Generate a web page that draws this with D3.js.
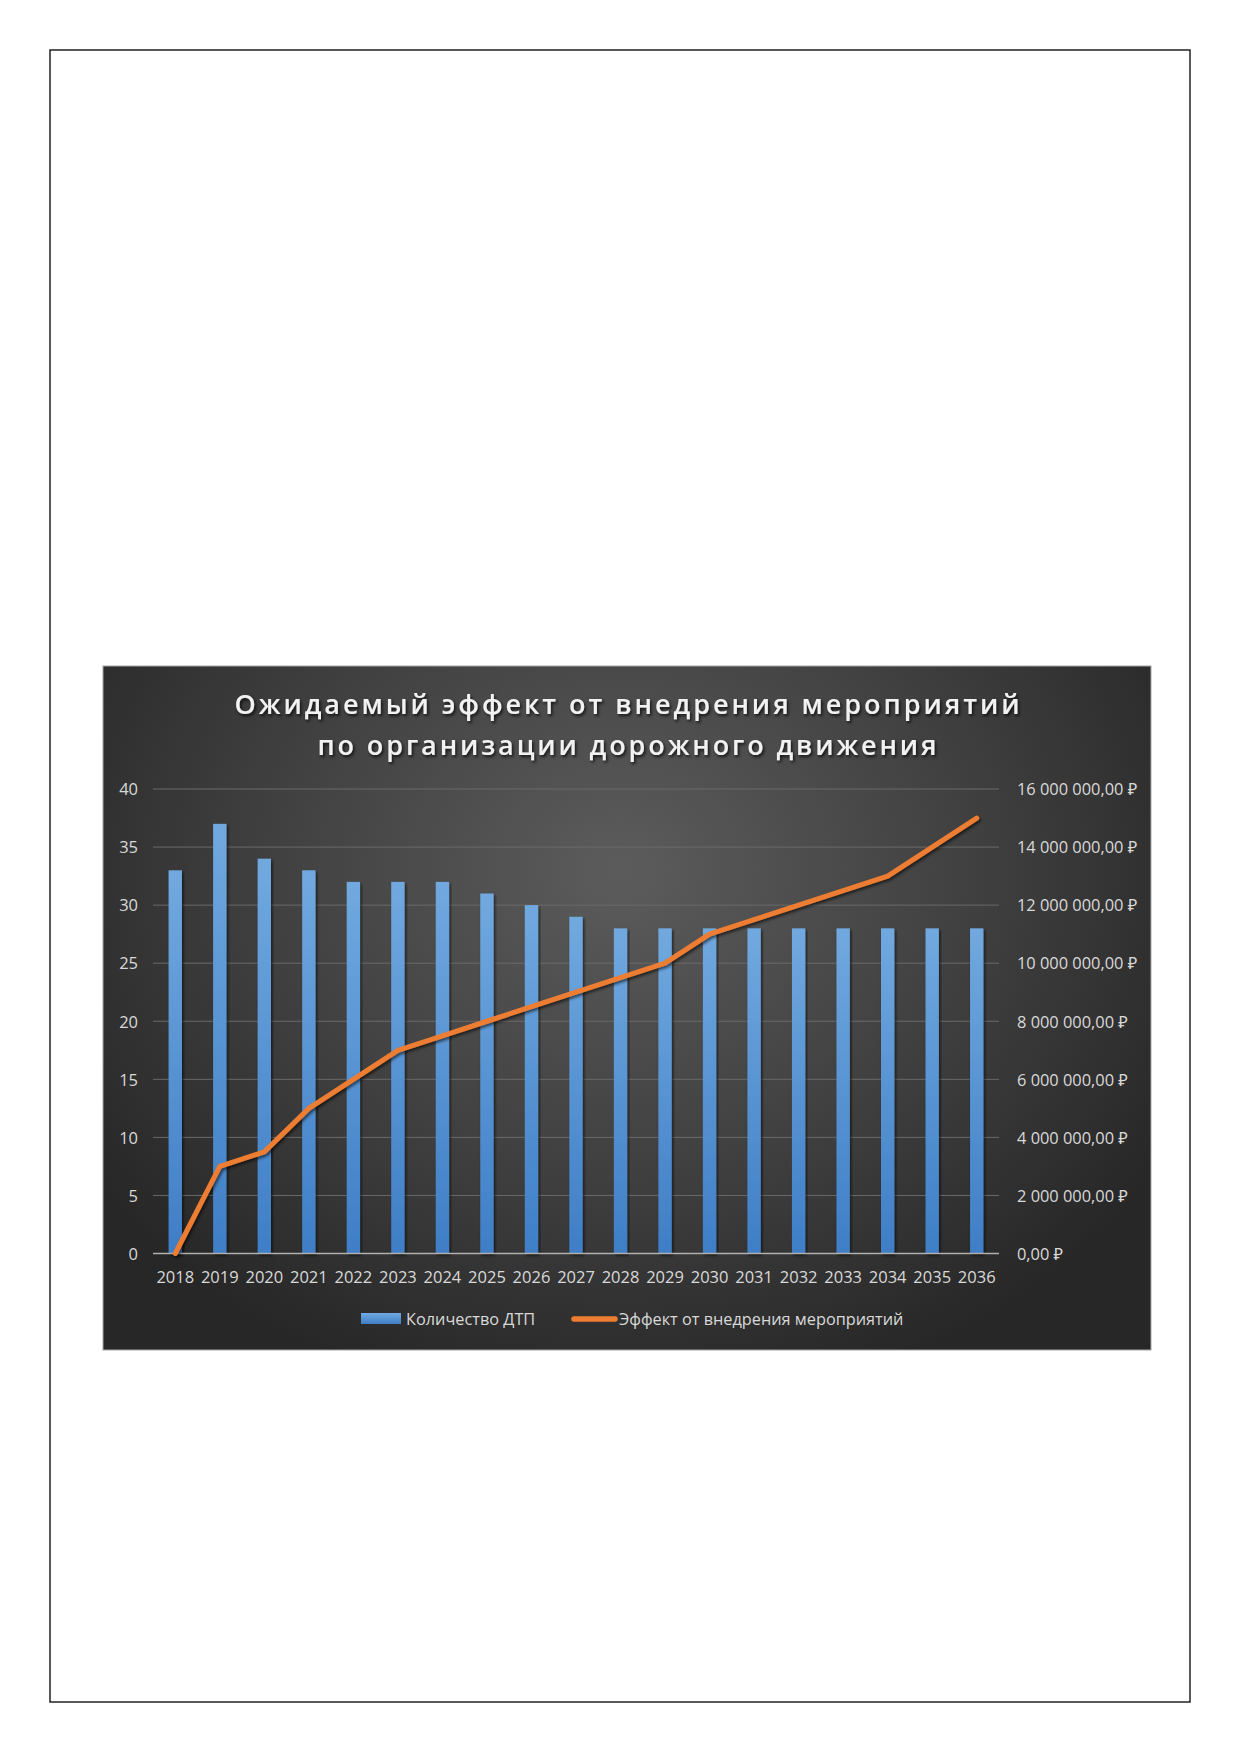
<!DOCTYPE html>
<html>
<head>
<meta charset="utf-8">
<script src="https://cdn.jsdelivr.net/npm/d3@7/dist/d3.min.js"></script>
<style>
  html, body { margin: 0; padding: 0; background: #ffffff; }
  svg { display: block; }
</style>
</head>
<body>
<script>
// ---- data ----
const years = ["2018","2019","2020","2021","2022","2023","2024","2025","2026","2027","2028","2029","2030","2031","2032","2033","2034","2035","2036"];
const accidents = [33, 37, 34, 33, 32, 32, 32, 31, 30, 29, 28, 28, 28, 28, 28, 28, 28, 28, 28];
const effect = [0, 3000000, 3500000, 5000000, 6000000, 7000000, 7500000, 8000000, 8500000, 9000000, 9500000, 10000000, 11000000, 11500000, 12000000, 12500000, 13000000, 14000000, 15000000];
const leftTicks = [0, 5, 10, 15, 20, 25, 30, 35, 40];
const rightTicks = [0, 2000000, 4000000, 6000000, 8000000, 10000000, 12000000, 14000000, 16000000];
const titleLines = ["Ожидаемый эффект от внедрения мероприятий", "по организации дорожного движения"];
const seriesNames = ["Количество ДТП", "Эффект от внедрения мероприятий"];

// ---- layout ----
const W = 1239, H = 1752;
const chart = {x: 103, y: 666, w: 1048, h: 684};
const plot = {left: 153, right: 999, top: 789, bottom: 1253.5};
const textColor = "#d9d9d9";
const font = "'Open Sans', 'Noto Sans', 'DejaVu Sans', sans-serif";

const svg = d3.select("body").append("svg").attr("width", W).attr("height", H);
const defs = svg.append("defs");

const bg = defs.append("radialGradient").attr("id", "bg")
  .attr("gradientUnits", "userSpaceOnUse")
  .attr("cx", 620).attr("cy", 870).attr("r", 640)
  .attr("gradientTransform", "translate(620,870) scale(1,0.85) translate(-620,-870)");
bg.append("stop").attr("offset", "0").attr("stop-color", "#5c5c5c");
bg.append("stop").attr("offset", "0.55").attr("stop-color", "#404040");
bg.append("stop").attr("offset", "1").attr("stop-color", "#272727");

const barG = defs.append("linearGradient").attr("id", "barg").attr("x1", 0).attr("y1", 0).attr("x2", 0).attr("y2", 1);
barG.append("stop").attr("offset", "0").attr("stop-color", "#71a9df");
barG.append("stop").attr("offset", "1").attr("stop-color", "#3f7ec6");

const sh = defs.append("filter").attr("id", "shadow").attr("x", "-20%").attr("y", "-20%").attr("width", "140%").attr("height", "140%");
sh.append("feDropShadow").attr("dx", 1.5).attr("dy", 2).attr("stdDeviation", 1.5).attr("flood-color", "#000").attr("flood-opacity", 0.6);
const tsh = defs.append("filter").attr("id", "tshadow").attr("x", "-5%").attr("y", "-30%").attr("width", "110%").attr("height", "160%");
tsh.append("feDropShadow").attr("dx", 1.5).attr("dy", 2).attr("stdDeviation", 1.5).attr("flood-color", "#000").attr("flood-opacity", 0.75);

// page border
svg.append("rect").attr("x", 50).attr("y", 50).attr("width", 1140).attr("height", 1652)
  .attr("fill", "#fff").attr("stroke", "#222").attr("stroke-width", 1.5);

// chart background
svg.append("rect").attr("x", chart.x).attr("y", chart.y).attr("width", chart.w).attr("height", chart.h)
  .attr("fill", "url(#bg)").attr("stroke", "#a6a6a6").attr("stroke-width", 1);

// ---- scales ----
const x = d3.scaleBand().domain(years).range([plot.left, plot.right]).paddingInner(0.7).paddingOuter(0.35);
const yL = d3.scaleLinear().domain([0, 40]).range([plot.bottom, plot.top]);
const yR = d3.scaleLinear().domain([0, 16000000]).range([plot.bottom, plot.top]);

const ru = d3.formatLocale({decimal: ",", thousands: "\u00a0", grouping: [3], currency: ["", "\u00a0₽"]});
const fmtR = ru.format("$,.2f");

// gridlines
svg.append("g").selectAll("line").data(leftTicks.filter(d => d > 0)).join("line")
  .attr("x1", plot.left).attr("x2", plot.right)
  .attr("y1", d => yL(d)).attr("y2", d => yL(d))
  .attr("stroke", "#6a6a6a").attr("stroke-width", 1);

// bars
svg.append("g").selectAll("rect").data(accidents).join("rect")
  .attr("x", (d, i) => x(years[i]))
  .attr("y", d => yL(d))
  .attr("width", x.bandwidth())
  .attr("height", d => yL(0) - yL(d))
  .attr("fill", "url(#barg)")
  .attr("filter", "url(#shadow)");

// baseline
svg.append("line").attr("x1", plot.left).attr("x2", plot.right)
  .attr("y1", yL(0)).attr("y2", yL(0)).attr("stroke", "#b0b0b0").attr("stroke-width", 1.5);

// left axis
const axL = d3.axisLeft(yL).tickValues(leftTicks).tickSize(0).tickPadding(0);
const gL = svg.append("g").attr("transform", "translate(138,0)").call(axL);
gL.select(".domain").remove();
gL.selectAll("text").attr("fill", textColor).attr("font-family", font).attr("font-size", 16.5).attr("dy", "0.35em");

// right axis
const axR = d3.axisRight(yR).tickValues(rightTicks).tickFormat(fmtR).tickSize(0).tickPadding(0);
const gR = svg.append("g").attr("transform", "translate(1017,0)").call(axR);
gR.select(".domain").remove();
gR.selectAll("text").attr("fill", textColor).attr("font-family", font).attr("font-size", 16.4).attr("dy", "0.35em");

// bottom axis
const axB = d3.axisBottom(x).tickSize(0).tickPadding(0);
const gB = svg.append("g").attr("transform", "translate(0,1283)").call(axB);
gB.select(".domain").remove();
gB.selectAll("text").attr("fill", textColor).attr("font-family", font).attr("font-size", 16.5).attr("dy", 0);

// line
const line = d3.line().x((d, i) => x(years[i]) + x.bandwidth() / 2).y(d => yR(d));
svg.append("path").datum(effect).attr("d", line)
  .attr("fill", "none").attr("stroke", "#ed7d31").attr("stroke-width", 5)
  .attr("stroke-linejoin", "round").attr("stroke-linecap", "round")
  .attr("filter", "url(#shadow)");

// title
const tW = [785, 619];
const tY = [714, 755];
svg.append("g").selectAll("text").data(titleLines).join("text")
  .attr("x", 627).attr("y", (d, i) => tY[i])
  .attr("text-anchor", "middle")
  .attr("font-family", font).attr("font-weight", 600).attr("font-size", 27)
  .attr("fill", "#f2f2f2")
  .attr("textLength", (d, i) => tW[i]).attr("lengthAdjust", "spacing")
  .attr("filter", "url(#tshadow)")
  .text(d => d);

// legend
const lg = svg.append("g");
lg.append("rect").attr("x", 361).attr("y", 1313).attr("width", 40).attr("height", 11).attr("fill", "url(#barg)");
lg.append("text").attr("x", 406).attr("y", 1324.5).attr("fill", textColor)
  .attr("font-family", font).attr("font-size", 16.3).text(seriesNames[0]);
lg.append("line").attr("x1", 574).attr("x2", 615).attr("y1", 1319).attr("y2", 1319)
  .attr("stroke", "#ed7d31").attr("stroke-width", 5.5).attr("stroke-linecap", "round");
lg.append("text").attr("x", 619).attr("y", 1324.5).attr("fill", textColor)
  .attr("font-family", font).attr("font-size", 16.3).text(seriesNames[1]);
</script>
</body>
</html>
